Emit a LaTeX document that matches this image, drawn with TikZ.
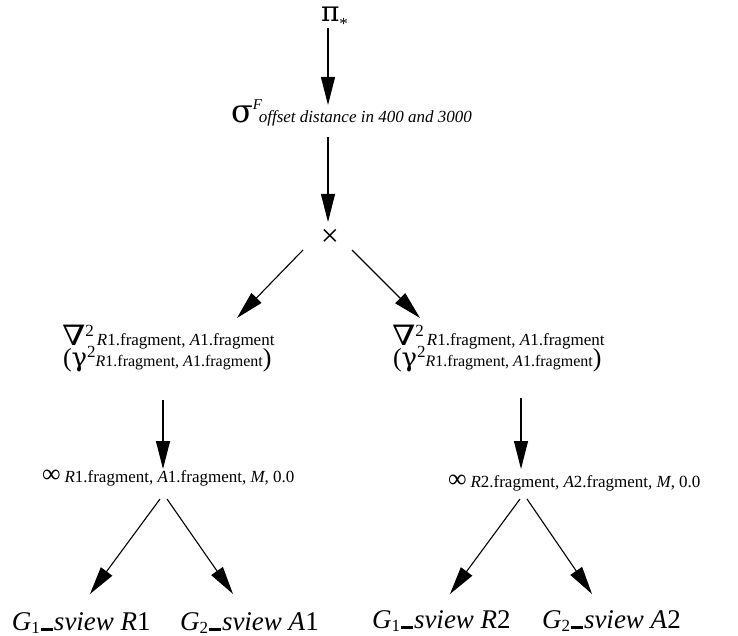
\documentclass[tikz,border=0pt]{standalone}
\usepackage{fontspec}
\setmainfont{Liberation Serif}
\newfontfamily\grk{DejaVu Serif}
\usetikzlibrary{arrows.meta,calc}

\newcommand\fsz[1]{\fontsize{#1}{#1}\selectfont}
\newcommand\bignabla{\scalebox{1.2}[1]{\grk\fsz{28}∇}}
\newcommand\glabel[3]{\fsz{27}\textit{G}\raisebox{-3pt}{\fsz{17}#1}\hspace{1pt}\rule[-1pt]{12pt}{3pt}\hspace{1pt}\textit{sview #2}#3}

\tikzset{
  lbl/.style={inner sep=0pt, outer sep=0pt, anchor=base west},
  op/.style={inner sep=0pt, outer sep=0pt, anchor=center},
  arr/.style={line width=1.1pt, -{Triangle[length=28pt,width=14pt]}}
}

\begin{document}
\begin{tikzpicture}[x=1pt,y=-1pt]
\useasboundingbox (0,0) rectangle (738,636);

% operator labels
\node[lbl] (pi) at (321,22) {{\grk\fsz{28}π}\raisebox{-8pt}{\fsz{17}*}};
\node[lbl] (sigma) at (231,123) {{\grk\fsz{32}σ}\rlap{\raisebox{13pt}{\fsz{15}\itshape F}}\hspace{6pt}\fsz{17}\itshape offset distance in 400 and 3000};
\node[op] (times) at (330,238) {\fsz{32}×};

\node[lbl] (nablaL) at (62,345) {\bignabla\raisebox{9pt}{\fsz{17}2}\hspace{3pt}\fsz{17}\textit{R}1.fragment, \textit{A}1.fragment};
\node[lbl] (gammaL) at (63,366) {\fsz{26}({\grk\fsz{26}γ}\raisebox{9pt}{\fsz{17}2}\fsz{16}\textit{R}1.fragment, \textit{A}1.fragment\fsz{26})};
\node[lbl] (nablaR) at (392,345) {\bignabla\raisebox{9pt}{\fsz{17}2}\hspace{3pt}\fsz{17}\textit{R}1.fragment, \textit{A}1.fragment};
\node[lbl] (gammaR) at (393,366) {\fsz{26}({\grk\fsz{26}γ}\raisebox{9pt}{\fsz{17}2}\fsz{16}\textit{R}1.fragment, \textit{A}1.fragment\fsz{26})};

\node[lbl] (infL) at (42,482) {\fsz{26}∞\hspace{4pt}\fsz{17}\textit{R}1.fragment, \textit{A}1.fragment, \textit{M}, 0.0};
\node[lbl] (infR) at (448,487) {\fsz{26}∞\hspace{4pt}\fsz{17}\textit{R}2.fragment, \textit{A}2.fragment, \textit{M}, 0.0};

% leaves
\node[lbl] (g1L) at (12,630) {\glabel{1}{R}{1}};
\node[lbl] (g2L) at (180,630) {\glabel{2}{A}{1}};
\node[lbl] (g1R) at (372,628) {\glabel{1}{R}{2}};
\node[lbl] (g2R) at (542,628) {\glabel{2}{A}{2}};

% edges
\draw[arr] ($(pi.base west)+(7,6)$) -- ($(sigma.base west)+(97,-18)$);
\draw[arr] ($(sigma.base west)+(97,14)$) -- ($(times.center)+(-2,-16)$);
\draw[arr] ($(times.center)+(-27,12)$) -- ($(nablaL.base west)+(175,-27)$);
\draw[arr] ($(times.center)+(22,12)$) -- ($(nablaR.base west)+(28,-27)$);
\draw[arr] ($(gammaL.base west)+(100,34)$) -- ($(infL.base west)+(121,-13)$);
\draw[arr] ($(gammaR.base west)+(128,32)$) -- ($(infR.base west)+(73,-18)$);
\draw[arr] ($(infL.base west)+(118,17)$) -- ($(g1L.base west)+(78,-36)$);
\draw[arr] ($(infL.base west)+(125,17)$) -- ($(g2L.base west)+(53,-36)$);
\draw[arr] ($(infR.base west)+(72,12)$) -- ($(g1R.base west)+(78,-34)$);
\draw[arr] ($(infR.base west)+(79,12)$) -- ($(g2R.base west)+(50,-34)$);
\end{tikzpicture}
\end{document}
